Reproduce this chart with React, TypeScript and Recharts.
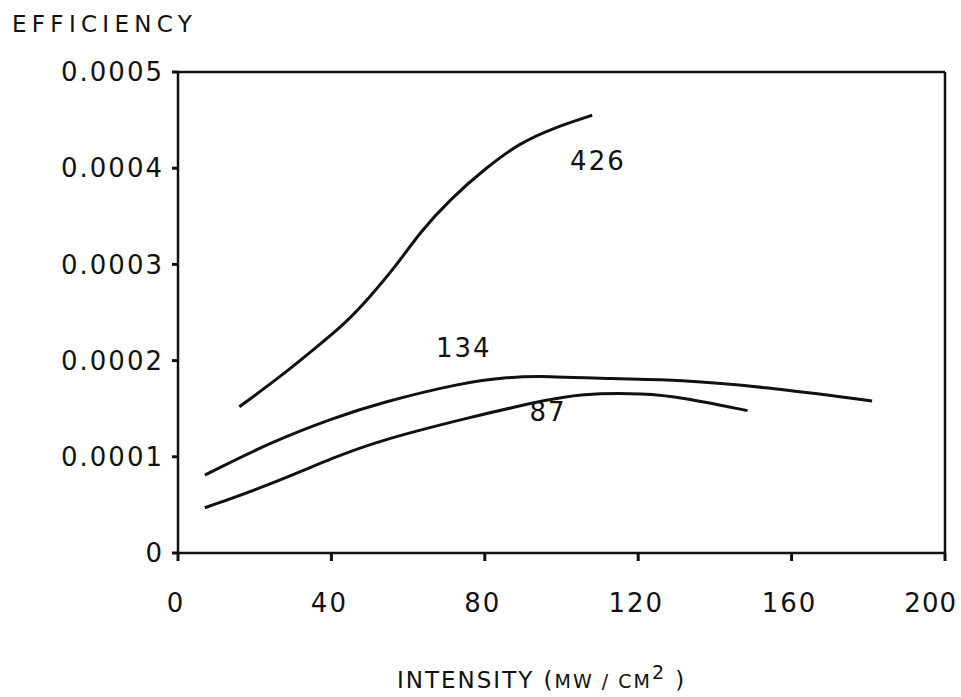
import { LineChart, Line, XAxis, YAxis, ReferenceLine, ReferenceDot } from 'recharts';

const xTicks = [0, 40, 80, 120, 160, 200];
const yTicks = [0, 0.0001, 0.0002, 0.0003, 0.0004, 0.0005];

const intensity426 = [16, 26.6, 35.2, 44, 50, 57, 63, 71, 80.5, 89, 98, 108];
const efficiency426 = [0.000152, 0.000183, 0.000211, 0.00024, 0.000266, 0.000299, 0.000333, 0.000368, 0.000401, 0.000426, 0.000442, 0.000455];

const intensity134 = [7, 24, 41, 52.6, 74, 86, 96, 113, 131, 152, 181];
const efficiency134 = [0.000081, 0.000115, 0.000141, 0.000156, 0.000177, 0.000183, 0.000184, 0.000181, 0.00018, 0.000173, 0.000158];

const intensity87 = [7, 24, 41, 52.6, 76, 93.5, 105, 122, 131, 148.5];
const efficiency87 = [0.000047, 0.000071, 0.0001, 0.000117, 0.000141, 0.000157, 0.000166, 0.000166, 0.000162, 0.000148];

const curveLabels = [
  { text: '426', x: 109.5, y: 0.000408 },
  { text: '134', x: 74.5, y: 0.000213 },
  { text: '87', x: 96.5, y: 0.000147 },
];

const toPoints = (xs: number[], ys: number[]) => xs.map((x, i) => ({ x, y: ys[i] }));

const ink = '#111';
const font = '"DejaVu Sans", sans-serif';
const tickStyle = { fill: ink, fontSize: 26, fontFamily: font, letterSpacing: 2 };

function XTick(props: any) {
  const { x, y, payload } = props;
  // last label sits right at the page edge, pull it in a bit
  const last = payload.value === 200;
  return (
    <text
      x={last ? x + 12 : x - 2}
      y={y}
      dy="0.71em"
      textAnchor={last ? 'end' : 'middle'}
      {...tickStyle}
      letterSpacing={last ? 1 : 2}
    >
      {payload.value}
    </text>
  );
}

export default function App() {
  const series = [
    { name: '426', data: toPoints(intensity426, efficiency426) },
    { name: '134', data: toPoints(intensity134, efficiency134) },
    { name: '87', data: toPoints(intensity87, efficiency87) },
  ];

  return (
    <div style={{ position: 'absolute', left: 0, top: 0, width: 961, height: 697, background: '#fff' }}>
      <div
        style={{
          position: 'absolute',
          left: 12,
          top: 11,
          fontFamily: font,
          fontSize: 23,
          letterSpacing: 5.3,
          color: ink,
        }}
      >
        EFFICIENCY
      </div>
      <LineChart width={961} height={697} margin={{ top: 72, right: 16, bottom: 94, left: 68 }}>
        <XAxis
          dataKey="x"
          type="number"
          domain={[0, 200]}
          ticks={xTicks}
          allowDataOverflow
          stroke={ink}
          strokeWidth={2.5}
          tickSize={8}
          tickMargin={33}
          height={50}
          tick={<XTick />}
          tickLine={{ stroke: ink, strokeWidth: 3 }}
        />
        <YAxis
          type="number"
          domain={[0, 0.0005]}
          ticks={yTicks}
          allowDataOverflow
          width={110}
          stroke={ink}
          strokeWidth={2.5}
          tickSize={6}
          tickMargin={8}
          tick={tickStyle}
          tickLine={{ stroke: ink, strokeWidth: 3 }}
          tickFormatter={(v: number) => (v === 0 ? '0' : v.toFixed(4))}
        />
        <ReferenceLine y={0.0005} stroke={ink} strokeWidth={2.5} />
        <ReferenceLine x={200} stroke={ink} strokeWidth={2.5} />
        {series.map(s => (
          <Line
            key={s.name}
            data={s.data}
            dataKey="y"
            type="basis"
            stroke={ink}
            strokeWidth={3}
            dot={false}
            isAnimationActive={false}
          />
        ))}
        {curveLabels.map(l => (
          <ReferenceDot
            key={l.text}
            x={l.x}
            y={l.y}
            r={0}
            stroke="none"
            fill="none"
            label={{ value: l.text, position: 'center', fill: ink, fontSize: 26, fontFamily: font, letterSpacing: 2 }}
          />
        ))}
      </LineChart>
      <div
        style={{
          position: 'absolute',
          left: 397,
          top: 661,
          fontFamily: font,
          fontSize: 23,
          letterSpacing: 2,
          color: ink,
          whiteSpace: 'nowrap',
        }}
      >
        INTENSITY (<span style={{ fontSize: 19 }}>MW / CM</span>
        <sup style={{ fontSize: 19 }}>2</sup> )
      </div>
    </div>
  );
}
